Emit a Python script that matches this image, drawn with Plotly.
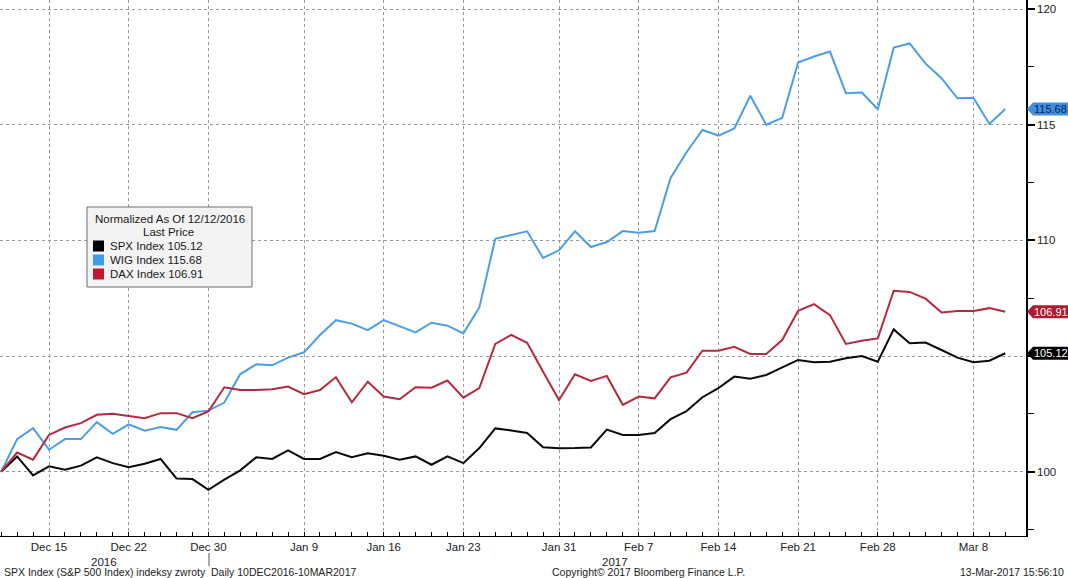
import pandas as pd
import plotly.graph_objects as go

# ---------------- data ----------------
all_days = pd.bdate_range("2016-12-12", "2017-03-10").strftime("%Y-%m-%d").tolist()
closed_days = ["2016-12-26"]
dates = [d for d in all_days if d not in closed_days]

spx = [100.00, 100.66, 99.84, 100.23, 100.09, 100.26, 100.62, 100.37, 100.19, 100.34,
       100.55, 99.71, 99.68, 99.22, 99.66, 100.06, 100.62, 100.55, 100.92, 100.55,
       100.55, 100.85, 100.63, 100.80, 100.69, 100.52, 100.66, 100.30, 100.66, 100.37,
       101.02, 101.87, 101.78, 101.67, 101.06, 101.01, 101.02, 101.05, 101.82, 101.59,
       101.59, 101.67, 102.27, 102.62, 103.22, 103.61, 104.11, 104.02, 104.18, 104.51,
       104.83, 104.73, 104.75, 104.90, 105.00, 104.75, 106.15, 105.55, 105.58, 105.26,
       104.93, 104.73, 104.80, 105.12]

wig = [100.00, 101.41, 101.88, 100.95, 101.41, 101.41, 102.14, 101.64, 102.05, 101.77,
       101.93, 101.81, 102.57, 102.64, 102.99, 104.22, 104.64, 104.60, 104.93, 105.16,
       105.91, 106.55, 106.40, 106.12, 106.55, 106.29, 106.02, 106.44, 106.31, 105.98,
       107.10, 110.07, 110.22, 110.39, 109.24, 109.57, 110.39, 109.71, 109.93, 110.40,
       110.33, 110.40, 112.70, 113.81, 114.77, 114.53, 114.84, 116.25, 115.00, 115.29,
       117.69, 117.95, 118.16, 116.36, 116.39, 115.67, 118.33, 118.51, 117.64, 117.01,
       116.14, 116.16, 115.03, 115.68]

dax = [100.00, 100.83, 100.52, 101.59, 101.91, 102.10, 102.46, 102.50, 102.41, 102.31,
       102.53, 102.53, 102.31, 102.60, 103.65, 103.53, 103.53, 103.56, 103.68, 103.35,
       103.53, 104.08, 103.00, 103.89, 103.25, 103.13, 103.65, 103.63, 103.94, 103.20,
       103.61, 105.52, 105.91, 105.57, 104.32, 103.10, 104.21, 103.92, 104.14, 102.89,
       103.25, 103.17, 104.08, 104.28, 105.23, 105.23, 105.40, 105.09, 105.09, 105.69,
       106.95, 107.24, 106.77, 105.52, 105.66, 105.76, 107.82, 107.77, 107.48, 106.88,
       106.95, 106.95, 107.07, 106.91]

series_names = ["SPX Index", "WIG Index", "DAX Index"]
series_values = [spx, wig, dax]
line_colors = ["#0a0a0a", "#4c9fe6", "#b52a3f"]
swatch_colors = ["#000000", "#3d9bf0", "#c0182f"]
tag_fill = ["#000000", "#3f8fe0", "#b3182e"]
tag_font = ["#ffffff", "#0b2350", "#ffffff"]

tick_dates = ["2016-12-15", "2016-12-22", "2016-12-30", "2017-01-09", "2017-01-16",
              "2017-01-23", "2017-01-31", "2017-02-07", "2017-02-14", "2017-02-21",
              "2017-02-28", "2017-03-08"]
tick_labels = ["Dec 15", "Dec 22", "Dec 30", "Jan 9", "Jan 16", "Jan 23", "Jan 31",
               "Feb 7", "Feb 14", "Feb 21", "Feb 28", "Mar 8"]
y_ticks = [100, 105, 110, 115, 120]
y_tick_labels = ["100", "", "110", "115", "120"]   # 105 is hidden under the SPX price tag
y_minor = [97.5, 102.5, 107.5, 112.5, 117.5]

# ---------------- figure ----------------
FONT = "Liberation Sans"
W, H = 1068, 578
ML, MR, MT, MB = 0, 42, 0, 42
PW, PH = W - ML - MR, H - MT - MB


def px(x):
    return (x - ML) / PW


def py(y):
    return 1 - (y - MT) / PH


fig = go.Figure()
for name, vals, col in zip(series_names, series_values, line_colors):
    fig.add_trace(go.Scatter(x=dates, y=vals, mode="lines", name=name,
                             line=dict(color=col, width=2), showlegend=False))

fig.update_layout(
    width=W, height=H,
    margin=dict(l=ML, r=MR, t=MT, b=MB),
    paper_bgcolor="white", plot_bgcolor="white",
    font=dict(family=FONT, size=11, color="#222"),
    xaxis=dict(
        type="date",
        rangebreaks=[dict(bounds=["sat", "mon"]), dict(values=closed_days)],
        range=["2016-12-09 22:12", "2017-03-13 07:12"],
        tickmode="array", tickvals=tick_dates, ticktext=tick_labels,
        ticks="", showgrid=True, gridcolor="#9a9a9a", griddash="dot", gridwidth=1,
        showline=True, linecolor="black", linewidth=1,
        tickfont=dict(family=FONT, size=11.5, color="#222"),
        minor=dict(tickmode="array", tickvals=dates, ticks="inside", ticklen=4,
                   tickcolor="black", tickwidth=1, showgrid=False),
        zeroline=False,
    ),
    yaxis=dict(
        side="right", range=[97.22, 120.39],
        tickmode="array", tickvals=y_ticks, ticktext=y_tick_labels,
        ticks="outside", ticklen=7, tickwidth=2, tickcolor="black",
        showgrid=True, gridcolor="#9a9a9a", griddash="dot", gridwidth=1,
        showline=True, linecolor="black", linewidth=1.5,
        tickfont=dict(family=FONT, size=11.5, color="#222"),
        minor=dict(tickmode="array", tickvals=y_minor, ticks="outside", ticklen=6,
                   tickcolor="black", tickwidth=1, showgrid=False),
        zeroline=False,
    ),
)

shapes = []
annotations = []

# last-price tags on the right axis
for vals, fc, tc in zip(series_values, tag_fill, tag_font):
    last = vals[-1]
    shapes.append(dict(type="path", xref="paper", yref="y", xsizemode="pixel",
                       ysizemode="pixel", xanchor=1, yanchor=last,
                       path="M 1,0 L 7,6.5 L 43,6.5 L 43,-6.5 L 7,-6.5 Z",
                       fillcolor=fc, line=dict(width=0), layer="above"))
    annotations.append(dict(xref="paper", x=1, xanchor="left", xshift=6,
                            yref="y", y=last, yanchor="middle", showarrow=False,
                            text=f"{last:.2f}", font=dict(family=FONT, size=11, color=tc)))

# legend box
LEG_FONT = dict(family=FONT, size=11.5, color="#1a1a1a")
shapes.append(dict(type="rect", xref="paper", yref="paper",
                   x0=px(87), x1=px(252), y0=py(287), y1=py(207),
                   fillcolor="#f3f3f3", line=dict(color="#6e6e6e", width=1), layer="above"))
annotations.append(dict(xref="paper", yref="paper", x=px(169.5), y=py(219),
                        xanchor="center", yanchor="middle", showarrow=False,
                        text="Normalized As Of 12/12/2016", font=LEG_FONT))
annotations.append(dict(xref="paper", yref="paper", x=px(168), y=py(232.5),
                        xanchor="center", yanchor="middle", showarrow=False,
                        text="Last Price", font=LEG_FONT))
for k, (name, vals, sc) in enumerate(zip(series_names, series_values, swatch_colors)):
    yc = 246 + 14 * k
    shapes.append(dict(type="rect", xref="paper", yref="paper",
                       x0=px(93), x1=px(104), y0=py(yc + 5.5), y1=py(yc - 5.5),
                       fillcolor=sc, line=dict(width=0), layer="above"))
    annotations.append(dict(xref="paper", yref="paper", x=px(108), y=py(yc),
                            xanchor="left", yanchor="middle", showarrow=False,
                            text=f"{name} {vals[-1]:.2f}", font=LEG_FONT))

# year labels and separator
annotations.append(dict(xref="paper", yref="paper", x=px(104), y=py(562),
                        xanchor="center", yanchor="middle", showarrow=False,
                        text="2016", font=dict(family=FONT, size=11.5, color="#222")))
annotations.append(dict(xref="paper", yref="paper", x=px(615), y=py(562),
                        xanchor="center", yanchor="middle", showarrow=False,
                        text="2017", font=dict(family=FONT, size=11.5, color="#222")))
shapes.append(dict(type="line", xref="paper", yref="paper",
                   x0=px(209), x1=px(209), y0=py(553), y1=py(566),
                   line=dict(color="#555", width=1)))

# footer
FOOT_FONT = dict(family=FONT, size=10.5, color="#222")
annotations.append(dict(xref="paper", yref="paper", x=px(2), y=py(572),
                        xanchor="left", yanchor="middle", showarrow=False,
                        text="SPX Index (S&amp;P 500 Index) indeksy zwroty  Daily 10DEC2016-10MAR2017",
                        font=FOOT_FONT))
annotations.append(dict(xref="paper", yref="paper", x=px(648), y=py(572),
                        xanchor="center", yanchor="middle", showarrow=False,
                        text="Copyright© 2017 Bloomberg Finance L.P.", font=FOOT_FONT))
annotations.append(dict(xref="paper", yref="paper", x=px(1066), y=py(572),
                        xanchor="right", yanchor="middle", showarrow=False,
                        text="13-Mar-2017 15:56:10", font=FOOT_FONT))

fig.update_layout(shapes=shapes, annotations=annotations)
fig.write_html("out.html")
